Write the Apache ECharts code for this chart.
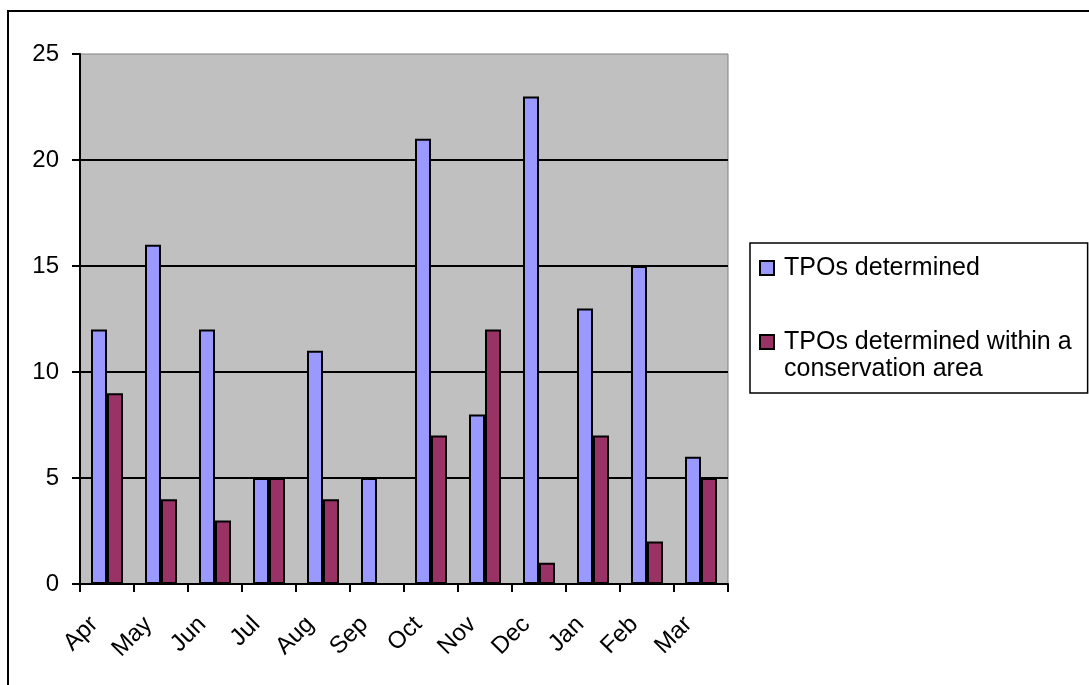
<!DOCTYPE html>
<html>
<head>
<meta charset="utf-8">
<script src="https://cdn.jsdelivr.net/npm/echarts@6/dist/echarts.min.js"></script>
<style>
  html, body { margin: 0; padding: 0; background: #fff; }
  #chart { width: 1089px; height: 685px; }
</style>
</head>
<body>
<div id="chart"></div>
<script>
// Monthly tree preservation orders
const months = ['Apr', 'May', 'Jun', 'Jul', 'Aug', 'Sep', 'Oct', 'Nov', 'Dec', 'Jan', 'Feb', 'Mar'];
const tposDetermined = [12, 16, 12, 5, 11, 5, 21, 8, 23, 13, 15, 6];
const tposConservation = [9, 4, 3, 5, 4, 0, 7, 12, 1, 7, 2, 5];
const yTicks = [0, 5, 10, 15, 20, 25];

const seriesNames = ['TPOs determined', 'TPOs determined within a\nconservation area'];
const FONT = '"Liberation Sans", Arial, sans-serif';

const chart = echarts.init(document.getElementById('chart'), null, { renderer: 'canvas' });

const barStyle = (color) => ({ color: color, borderColor: '#000', borderWidth: 2 });

chart.setOption({
  animation: false,
  backgroundColor: '#fff',
  textStyle: { fontFamily: FONT, color: '#000' },
  graphic: [{
    type: 'rect',
    z: -10,
    shape: { x: 8, y: 11, width: 1200, height: 800 },
    style: { fill: 'none', stroke: '#000', lineWidth: 2 }
  }],
  grid: {
    left: 80, top: 54, width: 648, height: 530,
    show: true, backgroundColor: '#C0C0C0', borderColor: '#808080', borderWidth: 1
  },
  legend: {
    orient: 'vertical',
    left: 750, top: 243,
    padding: [11.5, 16, 10.5, 9],
    itemGap: 20,
    itemWidth: 14, itemHeight: 14,
    icon: 'rect',
    selectedMode: false,
    borderColor: '#000', borderWidth: 1.5,
    backgroundColor: '#fff',
    // a leading blank line keeps the first text line level with the swatch
    formatter: (name) => (name.indexOf('\n') >= 0 ? '\n' + name : name),
    textStyle: { fontFamily: FONT, fontSize: 25, color: '#000', lineHeight: 27, padding: [0, 0, 0, 5] },
    data: seriesNames
  },
  xAxis: {
    type: 'category',
    data: months,
    axisLine: { lineStyle: { color: '#000', width: 2 } },
    axisTick: { show: true, length: 8, lineStyle: { color: '#000', width: 2 } },
    axisLabel: {
      interval: 0, rotate: 45, margin: 24, padding: [0, 18, 0, 0],
      fontSize: 24, color: '#000', fontFamily: FONT
    },
    splitLine: { show: false }
  },
  yAxis: {
    type: 'value',
    min: yTicks[0], max: yTicks[yTicks.length - 1], interval: yTicks[1] - yTicks[0],
    axisLine: { show: true, lineStyle: { color: '#000', width: 2 } },
    axisTick: { show: true, length: 8, lineStyle: { color: '#000', width: 2 } },
    axisLabel: { margin: 21, fontSize: 24, color: '#000', fontFamily: FONT },
    splitLine: { show: true, showMaxLine: false, lineStyle: { color: '#000', width: 2 } }
  },
  series: [
    {
      name: seriesNames[0], type: 'bar', data: tposDetermined,
      barWidth: 16, barGap: '0%',
      itemStyle: barStyle('#9999FF')
    },
    {
      name: seriesNames[1], type: 'bar', data: tposConservation,
      barWidth: 16, barGap: '0%',
      itemStyle: barStyle('#993366')
    }
  ]
});
</script>
</body>
</html>
